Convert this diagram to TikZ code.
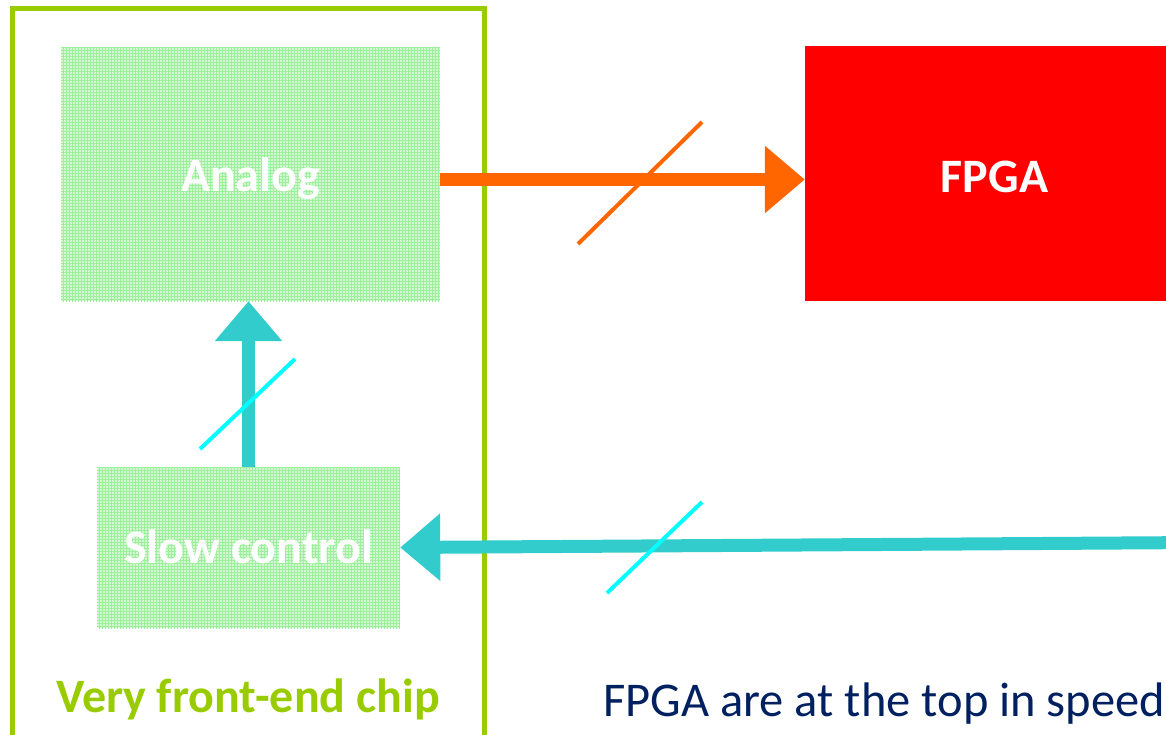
\documentclass[tikz,border=0pt]{standalone}
\usepackage{fontspec}
\setmainfont{Carlito}
\usetikzlibrary{arrows.meta,patterns}
\definecolor{chipgreen}{HTML}{99CC00}
\definecolor{boxgreen}{HTML}{D2F7D2}
\definecolor{gridgreen}{HTML}{9CF09C}
\definecolor{arrorange}{HTML}{FF6600}
\definecolor{arrcyan}{HTML}{33CCCC}
\definecolor{slashcyan}{HTML}{00FFFF}
\definecolor{fpgared}{HTML}{FF0000}
\definecolor{navy}{HTML}{002060}
\tikzset{
  blockbox/.style={rectangle, inner sep=0pt, text=white, font=\fontsize{48}{58}\selectfont\bfseries,
    preaction={fill=boxgreen}, pattern=grid, pattern color=gridgreen, text depth=0pt},
  fpgabox/.style={rectangle, inner sep=0pt, fill=fpgared, text=white, font=\fontsize{48}{58}\selectfont\bfseries, text depth=0pt},
  bigarrow/.style={line width=13pt, -{Triangle[width=65pt,length=40pt]}},
  slash/.style={line width=4pt},
}
\begin{document}
\begin{tikzpicture}[x=1pt,y=-1pt]
\useasboundingbox (0,0) rectangle (1166,734);
\clip (0,0) rectangle (1166,734);
% chip outline
\draw[chipgreen, line width=5pt] (12.5,8.5) rectangle (484.5,760);
% blocks
\node[blockbox, minimum width=379pt, minimum height=254pt, text height=34pt] (analog) at (250.5,174) {Analog};
\node[blockbox, minimum width=303pt, minimum height=161pt, text height=31pt] (slow) at (248.5,547.5) {Slow control};
\node[fpgabox, minimum width=379pt, minimum height=255pt, text height=37pt] (fpga) at (994.5,173.5) {FPGA};
\coordinate (ext) at (1200,542.5);
% connectors
\draw[bigarrow, arrorange] (analog.east |- 0,179.5) -- (fpga.west |- 0,179.5);
\draw[bigarrow, arrcyan] (slow.north -| 248.5,0) -- (analog.south -| 248.5,0);
\draw[bigarrow, arrcyan] (ext) -- (slow.east);
% bus slashes
\draw[slash, arrorange] (578,244) -- (702,122);
\draw[slash, slashcyan] (200,449) -- (295,359);
\draw[slash, slashcyan] (607,593) -- (702,502);
% labels
\node[anchor=base, text=chipgreen, font=\fontsize{48}{58}\selectfont\bfseries, inner sep=0pt] (chiplabel) at (248,712) {Very front-end chip};
\node[anchor=base west, text=navy, font=\fontsize{48.5}{58}\selectfont, inner sep=0pt] (note) at (603,716) {FPGA are at the top in speed};
\end{tikzpicture}
\end{document}
